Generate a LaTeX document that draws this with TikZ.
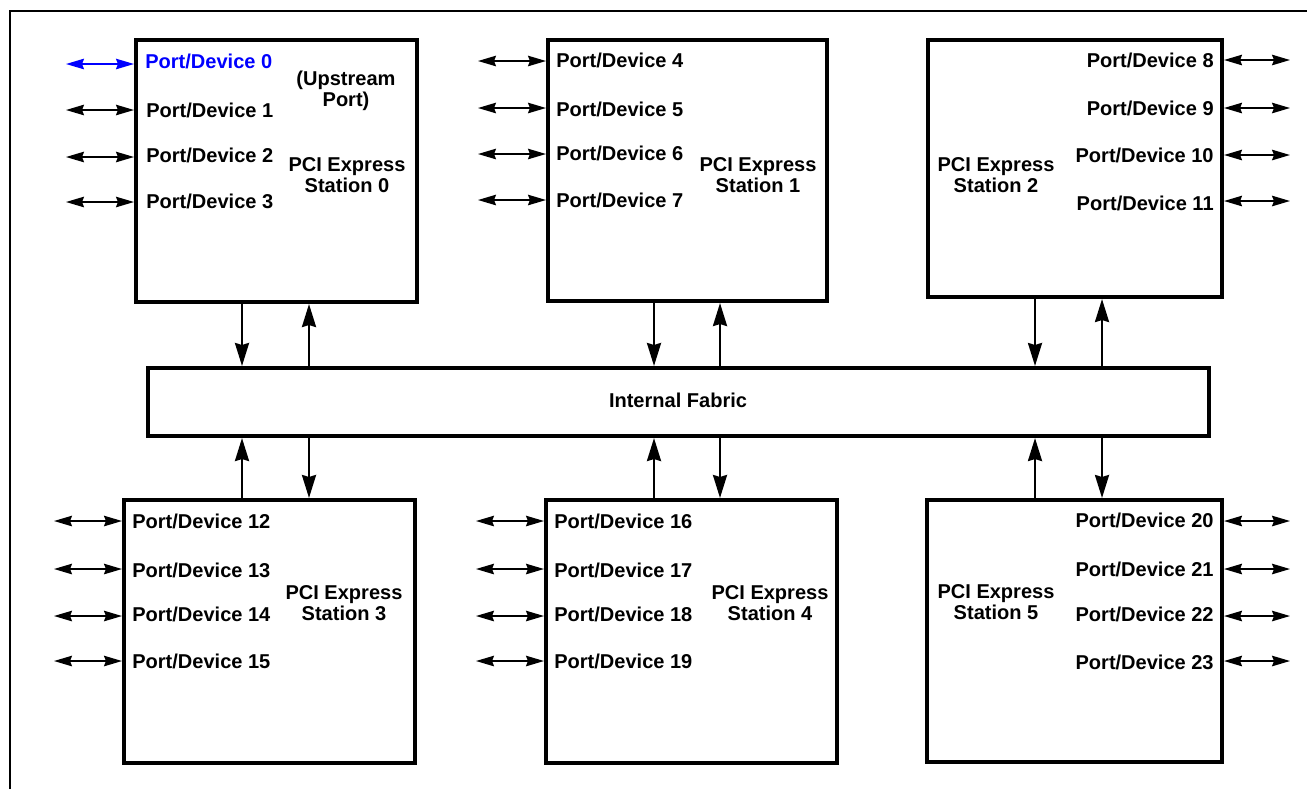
\documentclass[tikz,border=0pt]{standalone}
\usepackage{fontspec}
\setmainfont{Liberation Sans}
\usepackage{tikz}
\usetikzlibrary{arrows.meta}

\begin{document}
\begin{tikzpicture}[
  x=0.02cm, y=-0.02cm,
  station/.style={draw, line width=2.3pt, inner sep=0pt},
  portlabel/.style={font=\bfseries\fontsize{11.4}{11.9}\selectfont, inner sep=0pt},
  stationtext/.style={portlabel, align=center},
  linkarrow/.style={{Stealth[length=0.36cm,width=0.21cm,inset=0.04cm]}-{Stealth[length=0.36cm,width=0.21cm,inset=0.04cm]}, line width=1pt},
  busarrow/.style={-{Stealth[length=0.46cm,width=0.28cm,inset=0.04cm]}, line width=1.4pt}
]
\useasboundingbox (0,0) rectangle (1307,789);
\draw[line width=1pt] (10,789) -- (10,11) -- (1307,11);

% stations and fabric
\node[station, minimum width=281*0.02cm, minimum height=262*0.02cm] (st0) at (276.5,171) {};
\node[station, minimum width=279*0.02cm, minimum height=261*0.02cm] (st1) at (687.5,170.5) {};
\node[station, minimum width=294*0.02cm, minimum height=257*0.02cm] (st2) at (1075,168.5) {};
\node[station, minimum width=1061*0.02cm, minimum height=68*0.02cm] (fab) at (678.5,402) {};
\node[station, minimum width=291*0.02cm, minimum height=263*0.02cm] (st3) at (269.5,631.5) {};
\node[station, minimum width=291*0.02cm, minimum height=263*0.02cm] (st4) at (691.5,631.5) {};
\node[station, minimum width=295*0.02cm, minimum height=262*0.02cm] (st5) at (1074.5,631) {};

\node[stationtext] (fabtext) at (678,400) {Internal Fabric};
\node[stationtext] (up0) at (346,91) {(Upstream\\Port)};
\node[stationtext] (t0) at (347,175) {PCI Express\\Station 0};
\node[stationtext] (t1) at (758,175) {PCI Express\\Station 1};
\node[stationtext] (t2) at (996,175) {PCI Express\\Station 2};
\node[stationtext] (t3) at (344,603) {PCI Express\\Station 3};
\node[stationtext] (t4) at (770,603) {PCI Express\\Station 4};
\node[stationtext] (t5) at (996,602) {PCI Express\\Station 5};

% upstream port
\node[portlabel, anchor=west, text=blue] (p0) at (145,61) {Port/Device 0};
\coordinate (e0) at (66,64);
\draw[linkarrow, blue] (e0) -- (e0 -| st0.west);

% ports, left side
\foreach \n/\ly/\ay in {1/110/110, 2/155/157, 3/201/202}{
  \node[portlabel, anchor=west] (p\n) at (146,\ly) {Port/Device \n};
  \coordinate (e\n) at (66,\ay);
  \draw[linkarrow] (e\n) -- (e\n -| st0.west);
}
\foreach \n/\ly/\ay in {4/60/61, 5/109/108, 6/153/154, 7/200/200}{
  \node[portlabel, anchor=west] (p\n) at (556,\ly) {Port/Device \n};
  \coordinate (e\n) at (478,\ay);
  \draw[linkarrow] (e\n) -- (e\n -| st1.west);
}
\foreach \n/\ly/\ay in {12/521/521, 13/570/569, 14/614/616, 15/661/661}{
  \node[portlabel, anchor=west] (p\n) at (132,\ly) {Port/Device \n};
  \coordinate (e\n) at (54,\ay);
  \draw[linkarrow] (e\n) -- (e\n -| st3.west);
}
\foreach \n/\ly/\ay in {16/521/521, 17/570/569, 18/614/616, 19/661/661}{
  \node[portlabel, anchor=west] (p\n) at (554,\ly) {Port/Device \n};
  \coordinate (e\n) at (476,\ay);
  \draw[linkarrow] (e\n) -- (e\n -| st4.west);
}

% ports, right side
\foreach \n/\ly/\ay in {8/60/60, 9/108/108, 10/155/155, 11/203/201}{
  \node[portlabel, anchor=east] (p\n) at (1214,\ly) {Port/Device \n};
  \coordinate (e\n) at (1290,\ay);
  \draw[linkarrow] (e\n) -- (e\n -| st2.east);
}
\foreach \n/\ly/\ay in {20/520/521, 21/569/569, 22/614/616, 23/662/661}{
  \node[portlabel, anchor=east] (p\n) at (1214,\ly) {Port/Device \n};
  \coordinate (e\n) at (1290,\ay);
  \draw[linkarrow] (e\n) -- (e\n -| st5.east);
}

% links to the fabric
\foreach \s/\a/\b in {0/242/309, 1/654/720, 2/1035/1102}{
  \draw[busarrow] (st\s.south -| \a,0) -- (fab.north -| \a,0);
  \draw[busarrow] (fab.north -| \b,0) -- (st\s.south -| \b,0);
}
\foreach \s/\a/\b in {3/242/309, 4/654/720, 5/1035/1102}{
  \draw[busarrow] (st\s.north -| \a,0) -- (fab.south -| \a,0);
  \draw[busarrow] (fab.south -| \b,0) -- (st\s.north -| \b,0);
}
\end{tikzpicture}
\end{document}
